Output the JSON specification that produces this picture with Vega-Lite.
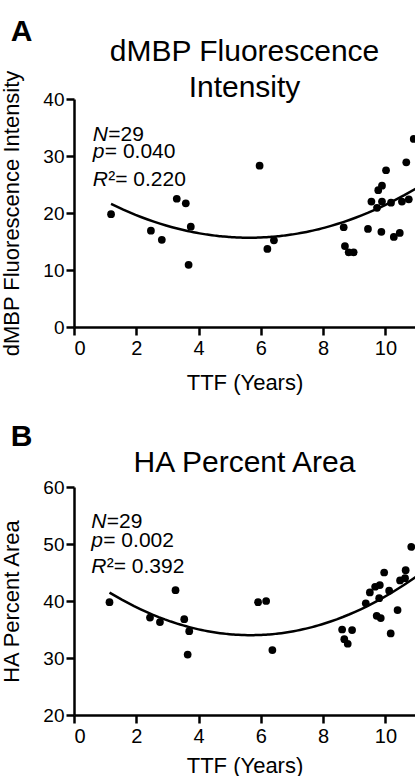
{
  "$schema": "https://vega.github.io/schema/vega-lite/v6.json",
  "padding": {"left": 0, "top": 16, "right": 0, "bottom": 0},
  "background": "white",
  "spacing": 29,
  "config": {
    "font": "Liberation Sans",
    "view": {"stroke": null},
    "concat": {"spacing": 29},
    "axis": {
      "grid": false,
      "domainColor": "black", "domainWidth": 2.5,
      "tickColor": "black", "tickWidth": 2.5, "tickSize": 8,
      "labelColor": "black", "labelFontSize": 19, "labelFont": "Liberation Sans", "labelPadding": 2,
      "titleColor": "black", "titleFontSize": 22, "titleFontWeight": "normal", "titleFont": "Liberation Sans"
    },
    "axisX": {"titlePadding": 12, "labelPadding": 3, "labelFontSize": 20},
    "axisY": {"titlePadding": 19}
  },
  "datasets": {
    "dmbp": [
      {"ttf": 1.19, "value": 19.8}, {"ttf": 2.47, "value": 16.9}, {"ttf": 2.82, "value": 15.3},
      {"ttf": 3.30, "value": 22.5}, {"ttf": 3.59, "value": 21.7}, {"ttf": 3.75, "value": 17.6},
      {"ttf": 3.68, "value": 10.9}, {"ttf": 5.96, "value": 28.3}, {"ttf": 6.21, "value": 13.7},
      {"ttf": 6.42, "value": 15.2}, {"ttf": 8.66, "value": 17.5}, {"ttf": 8.70, "value": 14.2},
      {"ttf": 8.82, "value": 13.1}, {"ttf": 8.98, "value": 13.1}, {"ttf": 9.44, "value": 17.2},
      {"ttf": 9.55, "value": 22.0}, {"ttf": 9.73, "value": 20.9}, {"ttf": 9.77, "value": 24.0},
      {"ttf": 9.89, "value": 24.8}, {"ttf": 9.87, "value": 16.7}, {"ttf": 9.89, "value": 22.0},
      {"ttf": 10.02, "value": 27.5}, {"ttf": 10.18, "value": 21.8}, {"ttf": 10.27, "value": 15.8},
      {"ttf": 10.46, "value": 16.5}, {"ttf": 10.53, "value": 22.0}, {"ttf": 10.75, "value": 22.4},
      {"ttf": 10.67, "value": 28.9}, {"ttf": 10.91, "value": 33.0}
    ],
    "ha": [
      {"ttf": 1.14, "value": 39.8}, {"ttf": 2.44, "value": 37.1}, {"ttf": 2.76, "value": 36.3},
      {"ttf": 3.26, "value": 41.9}, {"ttf": 3.54, "value": 36.8}, {"ttf": 3.70, "value": 34.7},
      {"ttf": 3.65, "value": 30.6}, {"ttf": 5.91, "value": 39.8}, {"ttf": 6.17, "value": 40.0},
      {"ttf": 6.37, "value": 31.4}, {"ttf": 8.61, "value": 35.0}, {"ttf": 8.68, "value": 33.3},
      {"ttf": 8.79, "value": 32.5}, {"ttf": 8.93, "value": 34.9}, {"ttf": 9.37, "value": 39.6},
      {"ttf": 9.50, "value": 41.5}, {"ttf": 9.67, "value": 42.5}, {"ttf": 9.82, "value": 42.8},
      {"ttf": 9.80, "value": 40.5}, {"ttf": 9.72, "value": 37.4}, {"ttf": 9.85, "value": 37.0},
      {"ttf": 9.96, "value": 45.0}, {"ttf": 10.12, "value": 41.8}, {"ttf": 10.17, "value": 34.3},
      {"ttf": 10.39, "value": 38.4}, {"ttf": 10.47, "value": 43.6}, {"ttf": 10.63, "value": 44.0},
      {"ttf": 10.65, "value": 45.4}, {"ttf": 10.83, "value": 49.5}
    ],
    "statsA_sym": [
      {"ttf": 0.6, "value": 32.6, "t": "N"},
      {"ttf": 0.6, "value": 29.6, "t": "p"},
      {"ttf": 0.6, "value": 24.66, "t": "R"}
    ],
    "statsA_txt": [
      {"ttf": 1.1, "value": 32.6, "t": "=29"},
      {"ttf": 0.99, "value": 29.6, "t": "= 0.040"},
      {"ttf": 1.1, "value": 24.66, "t": "²= 0.220"}
    ],
    "statsB_sym": [
      {"ttf": 0.55, "value": 52.86, "t": "N"},
      {"ttf": 0.55, "value": 49.5, "t": "p"},
      {"ttf": 0.55, "value": 44.96, "t": "R"}
    ],
    "statsB_txt": [
      {"ttf": 1.05, "value": 52.86, "t": "=29"},
      {"ttf": 0.94, "value": 49.5, "t": "= 0.002"},
      {"ttf": 1.05, "value": 44.96, "t": "²= 0.392"}
    ]
  },
  "vconcat": [
    {
      "title": {"text": "A", "anchor": "start", "fontSize": 30, "fontWeight": "bold", "color": "black", "offset": -10, "dx": 10},
      "vconcat": [
        {
          "width": 341,
          "height": 228,
          "title": {"text": ["dMBP Fluorescence", "Intensity"], "frame": "group", "fontSize": 30, "fontWeight": "normal", "color": "black", "lineHeight": 36, "offset": -33},
          "layer": [
            {
              "data": {"name": "dmbp"},
              "mark": {"type": "point", "filled": true, "color": "black", "opacity": 1, "size": 60, "clip": true},
              "encoding": {
                "x": {"field": "ttf", "type": "quantitative", "title": "TTF (Years)", "scale": {"domain": [0, 10.95], "nice": false}, "axis": {"values": [0, 2, 4, 6, 8, 10], "titlePadding": 14}},
                "y": {"field": "value", "type": "quantitative", "title": "dMBP Fluorescence Intensity", "scale": {"domain": [0, 40], "nice": false}, "axis": {"values": [0, 10, 20, 30, 40]}}
              }
            },
            {
              "data": {"name": "dmbp"},
              "transform": [{"regression": "value", "on": "ttf", "method": "poly", "order": 2, "extent": [1.19, 11]}],
              "mark": {"type": "line", "color": "black", "strokeWidth": 2.5, "clip": true},
              "encoding": {
                "x": {"field": "ttf", "type": "quantitative", "title": "TTF (Years)"},
                "y": {"field": "value", "type": "quantitative", "title": "dMBP Fluorescence Intensity"}
              }
            },
            {
              "data": {"name": "statsA_sym"},
              "mark": {"type": "text", "align": "left", "baseline": "alphabetic", "fontSize": 21, "fontStyle": "italic", "color": "black"},
              "encoding": {
                "x": {"field": "ttf", "type": "quantitative", "title": "TTF (Years)"},
                "y": {"field": "value", "type": "quantitative", "title": "dMBP Fluorescence Intensity"},
                "text": {"field": "t"}
              }
            },
            {
              "data": {"name": "statsA_txt"},
              "mark": {"type": "text", "align": "left", "baseline": "alphabetic", "fontSize": 21, "color": "black"},
              "encoding": {
                "x": {"field": "ttf", "type": "quantitative", "title": "TTF (Years)"},
                "y": {"field": "value", "type": "quantitative", "title": "dMBP Fluorescence Intensity"},
                "text": {"field": "t"}
              }
            }
          ]
        }
      ]
    },
    {
      "title": {"text": "B", "anchor": "start", "fontSize": 30, "fontWeight": "bold", "color": "black", "offset": -4, "dx": 10},
      "vconcat": [
        {
          "width": 341,
          "height": 228,
          "title": {"text": "HA Percent Area", "frame": "group", "fontSize": 30, "fontWeight": "normal", "color": "black", "offset": 0},
          "layer": [
            {
              "data": {"name": "ha"},
              "mark": {"type": "point", "filled": true, "color": "black", "opacity": 1, "size": 60, "clip": true},
              "encoding": {
                "x": {"field": "ttf", "type": "quantitative", "title": "TTF (Years)", "scale": {"domain": [0, 10.95], "nice": false}, "axis": {"values": [0, 2, 4, 6, 8, 10], "titlePadding": 9}},
                "y": {"field": "value", "type": "quantitative", "title": "HA Percent Area", "scale": {"domain": [20, 60], "nice": false}, "axis": {"values": [20, 30, 40, 50, 60]}}
              }
            },
            {
              "data": {"name": "ha"},
              "transform": [{"regression": "value", "on": "ttf", "method": "poly", "order": 2, "extent": [1.14, 11]}],
              "mark": {"type": "line", "color": "black", "strokeWidth": 2.5, "clip": true},
              "encoding": {
                "x": {"field": "ttf", "type": "quantitative", "title": "TTF (Years)"},
                "y": {"field": "value", "type": "quantitative", "title": "HA Percent Area"}
              }
            },
            {
              "data": {"name": "statsB_sym"},
              "mark": {"type": "text", "align": "left", "baseline": "alphabetic", "fontSize": 21, "fontStyle": "italic", "color": "black"},
              "encoding": {
                "x": {"field": "ttf", "type": "quantitative", "title": "TTF (Years)"},
                "y": {"field": "value", "type": "quantitative", "title": "HA Percent Area"},
                "text": {"field": "t"}
              }
            },
            {
              "data": {"name": "statsB_txt"},
              "mark": {"type": "text", "align": "left", "baseline": "alphabetic", "fontSize": 21, "color": "black"},
              "encoding": {
                "x": {"field": "ttf", "type": "quantitative", "title": "TTF (Years)"},
                "y": {"field": "value", "type": "quantitative", "title": "HA Percent Area"},
                "text": {"field": "t"}
              }
            }
          ]
        }
      ]
    }
  ]
}
